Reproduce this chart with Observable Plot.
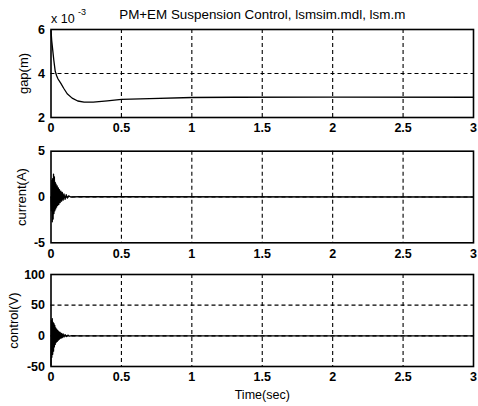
<!DOCTYPE html>
<html>
<head>
<meta charset="utf-8">
<script src="https://cdn.jsdelivr.net/npm/d3@7"></script>
<script src="https://cdn.jsdelivr.net/npm/@observablehq/plot@0.6"></script>
<style>
  html, body { margin: 0; padding: 0; background: #fff; }
  #wrap { position: relative; width: 478px; height: 406px; background: #fff; }
  #wrap svg { position: absolute; left: 0; overflow: visible; }
</style>
</head>
<body>
<div id="wrap"></div>
<script>
// ---- data ----
const xTicks = [0, 0.5, 1, 1.5, 2, 2.5, 3];
const gridX = [0.5, 1, 1.5, 2, 2.5];

// gap (x 10^-3 m)
const gapTime  = [0, 0.005, 0.01, 0.02, 0.03, 0.04, 0.05, 0.07, 0.09, 0.115, 0.15, 0.19, 0.235, 0.3, 0.4, 0.5, 0.7, 1.0, 1.3, 2.0, 3.0];
const gapValue = [5.95, 5.5, 5.2, 4.6, 4.1, 3.9, 3.75, 3.55, 3.33, 3.08, 2.88, 2.75, 2.70, 2.70, 2.76, 2.82, 2.86, 2.91, 2.92, 2.93, 2.92];

// current (A)
const curTime  = [0, 0.003, 0.006, 0.009, 0.012, 0.015, 0.018, 0.021, 0.024, 0.027, 0.030, 0.033, 0.036, 0.040, 0.044, 0.048, 0.052, 0.056, 0.060, 0.065, 0.070, 0.075, 0.080, 0.086, 0.092, 0.100, 0.108, 0.116, 0.125, 0.140, 0.200, 3.0];
const curValue = [0, -1.5, 1.8, -2.7, 2.0, -2.4, 2.5, -1.8, 2.2, -1.5, 1.6, -1.3, 1.4, -1.1, 1.2, -0.9, 1.0, -0.8, 0.8, -0.6, 0.65, -0.45, 0.5, -0.35, 0.35, -0.25, 0.25, -0.12, 0.12, 0, 0.03, 0];

// control (V)
const ctlTime  = [0, 0.003, 0.006, 0.009, 0.012, 0.015, 0.018, 0.021, 0.024, 0.027, 0.030, 0.033, 0.036, 0.040, 0.044, 0.048, 0.052, 0.056, 0.060, 0.065, 0.070, 0.075, 0.080, 0.086, 0.092, 0.100, 0.110, 0.120, 0.130, 0.150, 0.200, 3.0];
const ctlValue = [-48, 25, -35, 28, -30, 22, -25, 20, -18, 17, -14, 13, -11, 11, -9, 9, -7, 7, -5.5, 5.5, -4, 4, -3, 3, -2, 2, -1.2, 1.2, -0.6, 0.4, 0, 0];

const titleText = "PM+EM Suspension Control, lsmsim.mdl, lsm.m";
const xLabel = "Time(sec)";

// ---- helpers ----
const W = 478, ML = 50.5, MR = 5;
const font = "Liberation Sans, Arial, Helvetica, sans-serif";
const dash = "4,3";
const fmt = d => String(d);

function panel({top, height, mt, mb, t, v, yDomain, yTicks, gridY, ylabel, ylabelDx, extra = []}) {
  const data = t.map((d, i) => ({t: d, v: v[i]}));
  const svg = Plot.plot({
    width: W, height,
    marginLeft: ML, marginRight: MR, marginTop: mt, marginBottom: mb,
    style: {fontFamily: font, fontSize: "12px", background: "transparent", color: "#000"},
    x: {domain: [0, 3], ticks: xTicks, label: null},
    y: {domain: yDomain, ticks: yTicks, label: null},
    marks: [
      Plot.ruleX(gridX, {stroke: "#000", strokeWidth: 1.1, strokeDasharray: dash}),
      Plot.ruleY(gridY, {stroke: "#000", strokeWidth: 1.1, strokeDasharray: dash}),
      Plot.line(data, {x: "t", y: "v", stroke: "#000", strokeWidth: 1.3}),
      Plot.frame({stroke: "#000", strokeWidth: 1.6}),
      Plot.axisX({ticks: xTicks, tickFormat: fmt, tickSize: 0, tickPadding: 6, fontWeight: "bold", fontSize: 12.5, label: null}),
      Plot.axisY({ticks: yTicks, tickFormat: fmt, tickSize: 0, tickPadding: 6, fontWeight: "bold", fontSize: 12.5, label: null}),
      Plot.text([ylabel], {frameAnchor: "left", dx: ylabelDx, rotate: -90, textAnchor: "middle", lineAnchor: "middle", fontSize: 13, fill: "#000"}),
      ...extra
    ]
  });
  svg.style.top = top + "px";
  document.getElementById("wrap").appendChild(svg);
}

panel({
  top: 0, height: 135, mt: 29, mb: 18,
  t: gapTime, v: gapValue, yDomain: [2, 6], yTicks: [2, 4, 6], gridY: [4],
  ylabel: "gap(m)", ylabelDx: -27,
  extra: [
    Plot.text([titleText], {frameAnchor: "top", dy: -15, lineAnchor: "middle", textAnchor: "middle", fontSize: 13.4, fill: "#000"}),
    Plot.text(["x 10"], {frameAnchor: "top-left", dx: 0, dy: -11, lineAnchor: "middle", textAnchor: "start", fontSize: 12.5, fill: "#000"}),
    Plot.text(["-3"], {frameAnchor: "top-left", dx: 27, dy: -17, lineAnchor: "middle", textAnchor: "start", fontSize: 9, fill: "#000"})
  ]
});

panel({
  top: 135, height: 133, mt: 15.7, mb: 25.7,
  t: curTime, v: curValue, yDomain: [-5, 5], yTicks: [-5, 0, 5], gridY: [0],
  ylabel: "current(A)", ylabelDx: -29
});

panel({
  top: 268, height: 138, mt: 6, mb: 40,
  t: ctlTime, v: ctlValue, yDomain: [-50, 100], yTicks: [-50, 0, 50, 100], gridY: [0, 50],
  ylabel: "control(V)", ylabelDx: -37,
  extra: [
    Plot.text([xLabel], {frameAnchor: "bottom", dy: 28, lineAnchor: "middle", textAnchor: "middle", fontSize: 12.5, fill: "#000"})
  ]
});
</script>
</body>
</html>
